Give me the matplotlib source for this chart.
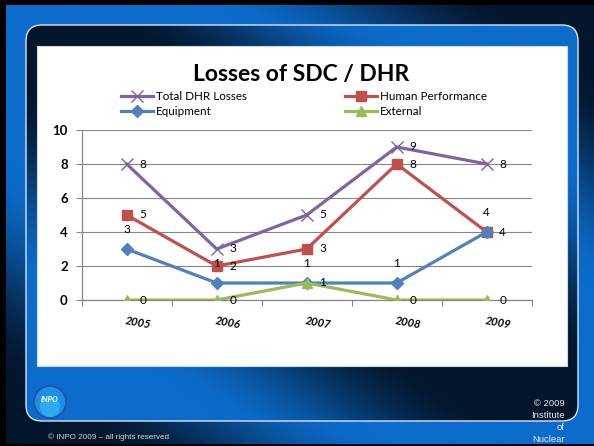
import matplotlib
matplotlib.use("Agg")
import matplotlib.pyplot as plt
import numpy as np
from matplotlib.patches import FancyBboxPatch, Rectangle, Circle
from matplotlib.colors import to_rgb

plt.rcParams["font.family"] = ["Lato", "DejaVu Sans"]

years = ["2005", "2006", "2007", "2008", "2009"]
total_dhr = [8, 3, 5, 9, 8]
human_perf = [5, 2, 3, 8, 4]
equipment = [3, 1, 1, 1, 4]
external = [0, 0, 1, 0, 0]
y_ticks = [0, 2, 4, 6, 8, 10]

C_TOTAL = "#8064A2"
C_HUMAN = "#C0504D"
C_EQUIP = "#4F81BD"
C_EXT = "#9BBB59"
C_AXIS = "#868686"

W, H = 594, 446
fig = plt.figure(figsize=(W / 100, H / 100), dpi=100)

# ---------------------------------------------------------------------------
# slide background
# ---------------------------------------------------------------------------
bg = fig.add_axes([0, 0, 1, 1])
bg.axis("off")
bg.add_patch(Rectangle((0, 0), W, H, color="black", zorder=0))

blue = np.array(to_rgb("#0C6CCB"))
dark = np.array(to_rgb("#03162C"))


def gradient(nx, ny, invert):
    u = np.linspace(0, 1, nx)[None, :]
    w = np.linspace(0, 1, ny)[:, None]
    v = np.abs(u - w)
    if invert:
        v = 1 - v
    t = np.clip((v - 0.35) / 0.5, 0, 1)
    t = t * t * (3 - 2 * t)
    return blue[None, None, :] * (1 - t[..., None]) + dark[None, None, :] * t[..., None]


bg.imshow(gradient(300, 220, False), extent=(6, W, 444, 5), aspect="auto", zorder=1)

panel = FancyBboxPatch((26, 25), 552, 396, boxstyle="round,pad=0,rounding_size=16",
                       facecolor="none", edgecolor="#D8E4F4", linewidth=1.0, zorder=3)
bg.add_patch(panel)
im = bg.imshow(gradient(300, 220, True), extent=(26, 578, 421, 25), aspect="auto", zorder=2)
im.set_clip_path(panel)

bg.add_patch(Rectangle((37, 46), 530, 320, facecolor="white", edgecolor="#C9D9EE",
                       linewidth=0.8, zorder=4))

# logo
bg.add_patch(Circle((50, 402), 16, facecolor="#1C8FE6", edgecolor="#2A4FA0", linewidth=1.2, zorder=5))
bg.add_patch(Circle((50, 407), 10, facecolor="#37B8F5", edgecolor="none", alpha=0.7, zorder=5))
bg.text(50, 400, "INPO", color="white", fontsize=5.5, style="italic", weight="bold",
        ha="center", va="center", zorder=6)

bg.text(48, 437, "\u00a9 INPO 2009 \u2013 all rights reserved", color="#D5D5D5", fontsize=5.9,
        family="Liberation Sans", ha="left", va="center", zorder=6)
for txt, yy in [("\u00a9 2009", 403), ("Institute", 415), ("of", 427), ("Nuclear", 439)]:
    bg.text(565, yy, txt, color="#E8E8E8", fontsize=6.8, family="Liberation Sans",
            ha="right", va="center", zorder=6)

bg.set_xlim(0, W)
bg.set_ylim(H, 0)

# ---------------------------------------------------------------------------
# chart
# ---------------------------------------------------------------------------
ax = fig.add_axes([81.7 / W, (H - 300) / H, 450 / W, 170 / H])
ax.patch.set_visible(False)
x = np.arange(len(years))

l_total, = ax.plot(x, total_dhr, color=C_TOTAL, lw=2.3, marker="x", ms=8, mew=1.0,
                   label="Total DHR Losses", zorder=3)
l_human, = ax.plot(x, human_perf, color=C_HUMAN, lw=2.3, marker="s", ms=7,
                   label="Human Performance", zorder=4)
l_equip, = ax.plot(x, equipment, color=C_EQUIP, lw=2.3, marker="D", ms=6,
                   label="Equipment", zorder=5)
l_ext, = ax.plot(x, external, color=C_EXT, lw=2.3, marker="^", ms=7.5,
                 label="External", zorder=6)

lab = dict(textcoords="offset points", fontsize=8.5, color="black", zorder=7)
for i in x:
    ax.annotate(str(total_dhr[i]), (i, total_dhr[i]), xytext=(9, 0), ha="left", va="center", **lab)
    ax.annotate(str(human_perf[i]), (i, human_perf[i]), xytext=(9, 0), ha="left", va="center", **lab)
    ax.annotate(str(equipment[i]), (i, equipment[i]), xytext=(0, 14), ha="center", va="center", **lab)
    ax.annotate(str(external[i]), (i, external[i]), xytext=(9, 0), ha="left", va="center", **lab)

ax.set_xlim(-0.5, len(years) - 0.5)
ax.set_ylim(0, 10)
ax.set_yticks(y_ticks)
ax.set_yticklabels([str(v) for v in y_ticks], fontsize=9.5, fontweight="bold")
ax.set_xticks(np.arange(-0.5, len(years), 1.0))
ax.set_xticklabels([])
ax.set_xticks(x, minor=True)
ax.set_xticklabels(years, minor=True, rotation=-10, ha="left", va="top",
                   rotation_mode="anchor", fontsize=8, weight="bold", style="italic")
ax.tick_params(axis="x", which="major", direction="out", length=4, color=C_AXIS)
ax.tick_params(axis="x", which="minor", length=0, pad=11)
ax.tick_params(axis="y", direction="out", length=4, color=C_AXIS, pad=6)
ax.grid(True, axis="y", color=C_AXIS, lw=0.8)
ax.set_axisbelow(True)
for s in ("top", "right"):
    ax.spines[s].set_visible(False)
for s in ("left", "bottom"):
    ax.spines[s].set_color(C_AXIS)
    ax.spines[s].set_linewidth(0.9)

leg_kw = dict(loc="center left", frameon=False, fontsize=8.4, handlelength=2.7,
              handletextpad=0.3, labelspacing=0.4, borderpad=0, borderaxespad=0)
leg1 = fig.legend(handles=[l_total, l_equip], bbox_to_anchor=(121 / W, 1 - 104 / H), **leg_kw)
leg2 = fig.legend(handles=[l_human, l_ext], bbox_to_anchor=(345 / W, 1 - 104 / H), **leg_kw)

fig.text(301 / W, 1 - 74.5 / H, "Losses of SDC / DHR", ha="center", va="center",
         fontsize=16.5, weight="bold")

fig.savefig("out.png", dpi=100)
